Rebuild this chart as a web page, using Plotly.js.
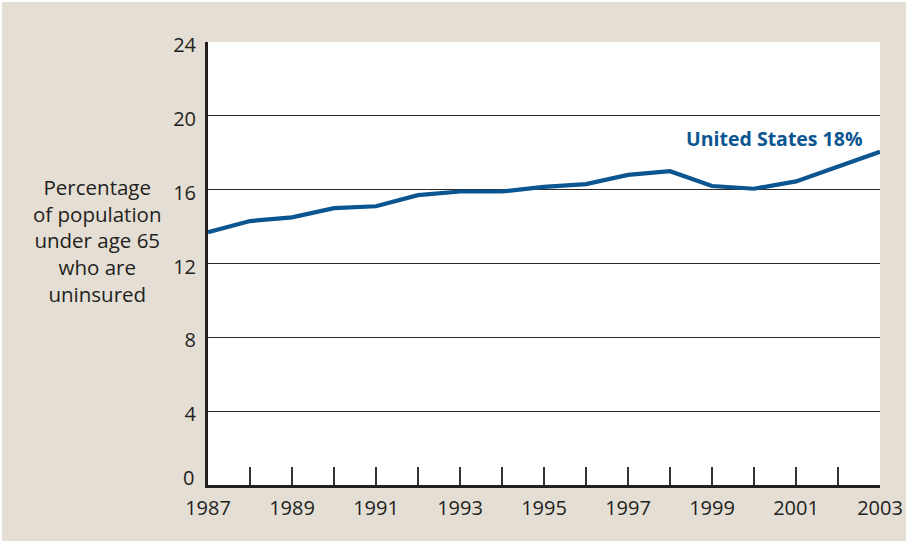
<!DOCTYPE html>
<html>
<head>
<meta charset="utf-8">
<script src="https://cdn.plot.ly/plotly-3.0.1.min.js"></script>
<style>
  html, body { margin: 0; padding: 0; background: #ffffff; }
  #chart { position: absolute; left: 2px; top: 2px; width: 904px; height: 539px; }
</style>
</head>
<body>
<div id="chart"></div>
<script>
// Data
const years = [1987, 1988, 1989, 1990, 1991, 1992, 1993, 1994, 1995, 1996, 1997, 1998, 1999, 2000, 2001, 2002, 2003];
const uninsuredPct = [13.7, 14.3, 14.5, 15.0, 15.1, 15.7, 15.9, 15.9, 16.15, 16.3, 16.8, 17.0, 16.2, 16.05, 16.45, 17.25, 18.05];
const xTickYears = [1987, 1989, 1991, 1993, 1995, 1997, 1999, 2001, 2003];
const yTicks = [0, 4, 8, 12, 16, 20, 24];
const seriesLabel = 'United States 18%';
const yTitleLines = ['Percentage', 'of population', 'under age 65', 'who are', 'uninsured'];

const textColor = '#231f20';
const lineColor = '#0b5590';
const bg = '#e4ded4';
const fontFam = '"Open Sans", "Noto Sans", sans-serif';

const trace = {
  x: years,
  y: uninsuredPct,
  type: 'scatter',
  mode: 'lines',
  line: { color: lineColor, width: 4.2 },
  hoverinfo: 'skip',
  showlegend: false
};

// The "0" label sits above the x axis line in the reference, so it is drawn
// as an annotation at the axis value while the other tick labels come from the axis.
const yTickText = yTicks.map(v => (v === 0 ? '' : String(v)));

const layout = {
  width: 904,
  height: 539,
  margin: { l: 206, r: 26, t: 40, b: 56 },
  paper_bgcolor: bg,
  plot_bgcolor: '#ffffff',
  font: { family: fontFam, size: 20, color: textColor },
  xaxis: {
    range: [1987, 2003],
    tickvals: xTickYears,
    ticktext: xTickYears.map(String),
    ticks: 'inside',
    ticklen: 18,
    tickwidth: 1.3,
    tickcolor: '#333333',
    minor: { dtick: 1, tick0: 1987, ticks: 'inside', ticklen: 18, tickwidth: 1.3, tickcolor: '#333333', showgrid: false },
    showgrid: false,
    zeroline: false,
    showline: true,
    linecolor: '#231f20',
    linewidth: 3,
    ticklabelstandoff: 3,
    tickfont: { size: 20, color: textColor },
    fixedrange: true
  },
  yaxis: {
    range: [0, 24],
    tickvals: yTicks,
    ticktext: yTickText,
    ticks: '',
    showgrid: true,
    gridcolor: '#2a2a2a',
    gridwidth: 1.2,
    zeroline: false,
    showline: true,
    linecolor: '#231f20',
    linewidth: 3,
    ticklabelstandoff: 5,
    ticklabelshift: 3,
    tickfont: { size: 20, color: textColor },
    fixedrange: true
  },
  annotations: [
    {
      xref: 'paper', yref: 'y',
      x: 0, y: yTicks[0],
      text: String(yTicks[0]),
      showarrow: false,
      xanchor: 'right', yanchor: 'middle',
      xshift: -12, yshift: 8,
      font: { size: 20, color: textColor }
    },
    {
      xref: 'x', yref: 'y',
      x: years[years.length - 1], y: uninsuredPct[uninsuredPct.length - 1],
      text: '<b>' + seriesLabel + '</b>',
      showarrow: false,
      xanchor: 'right', yanchor: 'bottom',
      xshift: -15, yshift: -2,
      font: { size: 19.5, color: lineColor, family: fontFam }
    },
    {
      xref: 'paper', yref: 'y',
      x: -0.165, y: 13.25,
      text: yTitleLines.join('<br>'),
      showarrow: false,
      align: 'center',
      xanchor: 'center', yanchor: 'middle',
      font: { size: 20.5, color: textColor }
    }
  ]
};

Plotly.newPlot('chart', [trace], layout, { displayModeBar: false, staticPlot: true });
</script>
</body>
</html>
